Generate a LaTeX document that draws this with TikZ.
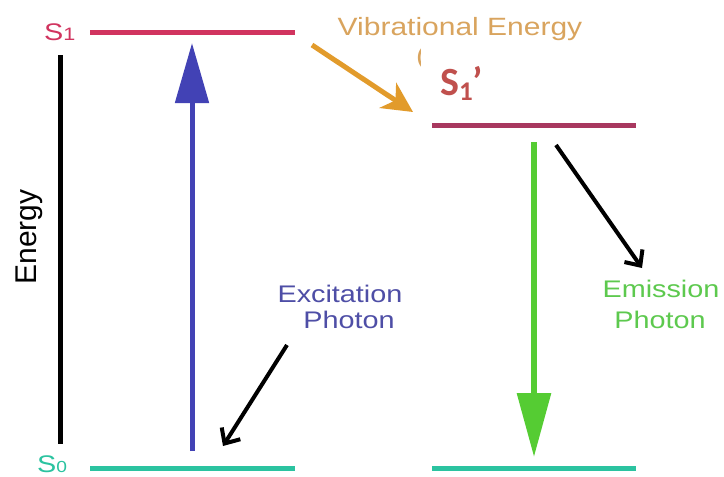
\documentclass[tikz,border=0pt]{standalone}
\usepackage{fontspec}
\setmainfont{Liberation Sans}
\newfontfamily\carl{Carlito}
\usetikzlibrary{arrows.meta}
\definecolor{sonered}{HTML}{D1345F}
\definecolor{sonepur}{HTML}{A8385F}
\definecolor{steal}{HTML}{2BC3A0}
\definecolor{exblue}{HTML}{4242B5}
\definecolor{emgreen}{HTML}{55CC33}
\definecolor{vibarrow}{HTML}{E29B2B}
\definecolor{vibtext}{HTML}{D9A45E}
\definecolor{extext}{HTML}{4E4EA6}
\definecolor{emtext}{HTML}{5DC94E}
\definecolor{sprime}{HTML}{C0504D}
\tikzset{
  level/.style={line width=5pt},
  lab/.style={inner sep=0pt, font=\fontsize{24}{30}\selectfont},
  pointer/.style={line width=4pt, black, -{Straight Barb[length=12pt,width=22pt]}},
}
\begin{document}
\begin{tikzpicture}[x=1pt,y=-1pt]
\useasboundingbox (0,0) rectangle (724,477);
\fill[white] (0,0) rectangle (724,477);
% coordinates
\coordinate (s1a) at (90,32);   \coordinate (s1b) at (295,32);
\coordinate (s0a) at (90,468);  \coordinate (s0b) at (295,468);
\coordinate (spa) at (432,125); \coordinate (spb) at (636,125);
\coordinate (t0a) at (432,468); \coordinate (t0b) at (636,468);
\coordinate (ena) at (60.5,55); \coordinate (enb) at (60.5,444);
\coordinate (exa) at (192,451); \coordinate (exb) at (192,43);
\coordinate (ema) at (534,142); \coordinate (emb) at (534,457);
\coordinate (viba) at (312,45);  \coordinate (vibb) at (413,112);
\coordinate (xpa) at (287,345); \coordinate (xpb) at (223,446);
\coordinate (mpa) at (556,145); \coordinate (mpb) at (642,268);
% levels
\draw[level, sonered] (s1a) -- (s1b);
\draw[level, steal] (s0a) -- (s0b);
\draw[level, sonepur] (spa) -- (spb);
\draw[level, steal] (t0a) -- (t0b);
% energy axis
\draw[line width=5pt, black] (ena) -- (enb);
\node[lab, rotate=90, anchor=base, font=\fontsize{30}{30}\selectfont] (energy) at (37,237) {Energy};
% level labels
\node[lab, anchor=base west, text=sonered] (s1lab) at (44,40) {\scalebox{1.2}[1]{S\fontsize{18}{18}\selectfont 1}};
\node[lab, anchor=base west, text=steal] (s0lab) at (37,472) {\scalebox{1.2}[1]{S\fontsize{16}{16}\selectfont 0}};
% excitation arrow
\draw[line width=5pt, exblue, -{Triangle[length=60pt,width=33pt]}] (exa) -- (exb);
% emission arrow
\draw[line width=6pt, emgreen, -{Triangle[length=64pt,width=33pt]}] (ema) -- (emb);
% vibrational
\node[lab, anchor=base, text=vibtext, font=\fontsize{25}{30}\selectfont] (vibtxt) at (460,35) {\scalebox{1.2}[1]{Vibrational Energy}};
\node[lab, anchor=base west, text=vibtext, font=\fontsize{25}{30}\selectfont] (paren) at (416,64) {\scalebox{1.2}[1]{(}};
\draw[line width=5pt, vibarrow, -{Stealth[length=30pt,width=30pt,inset=9pt]}] (viba) -- (vibb);
\fill[white] (421,44) rectangle (522,110);
\node[inner sep=0pt, anchor=base west, text=sprime, font=\carl\bfseries\fontsize{40}{40}\selectfont] (sprimelab) at (440,95) {S\raisebox{-5pt}{\fontsize{27}{27}\selectfont 1}’};
% text labels
\node[lab, anchor=base, text=extext] (ex1) at (340,302) {\scalebox{1.2}[1]{Excitation}};
\node[lab, anchor=base, text=extext] (ex2) at (349,328) {\scalebox{1.2}[1]{Photon}};
\node[lab, anchor=base, text=emtext] (em1) at (661,297) {\scalebox{1.2}[1]{Emission}};
\node[lab, anchor=base, text=emtext] (em2) at (660,328) {\scalebox{1.2}[1]{Photon}};
% pointers
\draw[pointer] (xpa) -- (xpb);
\draw[pointer] (mpa) -- (mpb);
\end{tikzpicture}
\end{document}
